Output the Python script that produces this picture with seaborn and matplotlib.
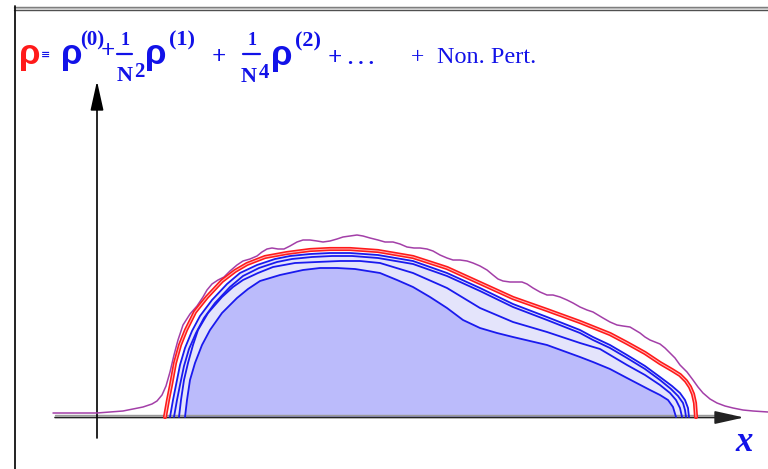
import matplotlib
matplotlib.use("Agg")
import matplotlib.pyplot as plt
import seaborn as sns

# ---- curve data, in drawing units (x to the right, y measured downward) ----
red_x = [165, 168, 171, 175, 180, 186, 195, 207, 222, 235, 247, 265, 287, 310, 330, 350, 378,
         413, 447, 480, 513, 547, 580, 610, 627, 645, 660, 672, 680, 686, 690, 693, 695, 696]
red_y = [417, 400, 385, 363, 345, 330, 312, 297, 281, 271, 264, 257, 253, 250, 249, 249, 251,
         257, 268, 283, 298, 310, 322, 334, 343, 353, 363, 370, 375, 381, 387, 394, 403, 417]

blue1_x = [170, 173, 176, 180, 185, 192, 200, 212, 227, 240, 257, 275, 290, 310, 330, 350, 378,
           413, 447, 480, 513, 547, 580, 593, 610, 627, 645, 660, 672, 680, 685, 688, 689]
blue1_y = [417, 400, 385, 365, 348, 331, 316, 300, 284, 273, 265, 259, 256, 254, 253, 253, 255,
           261, 273, 288, 304, 317, 330, 337, 345, 355, 366, 377, 386, 393, 400, 408, 417]

blue2_x = [174, 177, 180, 184, 189, 196, 204, 215, 230, 243, 259, 277, 292, 312, 332, 352, 378,
           413, 447, 480, 513, 547, 580, 593, 610, 627, 645, 660, 671, 678, 683, 685, 686]
blue2_y = [417, 400, 385, 366, 349, 333, 318, 303, 287, 276, 268, 262, 259, 257, 256, 256, 258,
           264, 276, 291, 307, 320, 333, 340, 348, 358, 369, 380, 389, 396, 403, 410, 417]

blue3_x = [179, 181, 184, 188, 193, 198, 208, 222, 233, 243, 258, 273, 295, 317, 340, 360, 380,
           413, 447, 480, 513, 547, 580, 600, 627, 645, 660, 670, 676, 680, 682]
blue3_y = [417, 400, 380, 363, 345, 330, 313, 297, 287, 280, 273, 267, 263, 262, 261, 261, 263,
           273, 288, 308, 322, 332, 343, 349, 365, 375, 385, 393, 400, 408, 417]

blue4_x = [185, 187, 190, 195, 202, 210, 222, 237, 248, 260, 280, 303, 320, 337, 355, 380, 397,
           413, 430, 447, 463, 480, 497, 513, 547, 580, 593, 610, 627, 650, 660, 668, 673, 676]
blue4_y = [417, 400, 380, 363, 345, 330, 313, 298, 289, 281, 275, 270, 268, 268, 269, 273, 280,
           287, 297, 308, 320, 328, 333, 337, 345, 357, 362, 369, 378, 390, 395, 400, 407, 417]

purple_x = [53, 97, 123, 143, 152, 157, 162, 166, 170, 174, 178, 183, 190, 197, 203, 207, 212,
            218, 224, 230, 237, 243, 250, 257, 262, 267, 272, 278, 284, 290, 297, 303, 310, 317,
            323, 330, 337, 343, 350, 357, 363, 370, 378, 385, 393, 400, 407, 414, 420, 427, 433,
            440, 447, 453, 460, 467, 473, 480, 487, 493, 498, 503, 510, 517, 522, 527, 533, 540,
            547, 553, 560, 567, 573, 580, 587, 593, 598, 603, 610, 617, 623, 630, 635, 640, 645,
            650, 655, 660, 665, 670, 675, 680, 687, 693, 698, 703, 710, 717, 725, 733, 743, 753, 768]
purple_y = [413, 413, 411, 407, 404, 401, 395, 386, 372, 355, 340, 325, 314, 306, 297, 290, 284,
            280, 277, 271, 265, 261, 259, 256, 252, 249, 248, 249, 249, 246, 242, 240, 240, 241,
            242, 241, 239, 237, 236, 235, 236, 238, 240, 242, 242, 244, 247, 248, 248, 249, 251,
            255, 258, 260, 260, 261, 263, 266, 270, 275, 279, 281, 282, 282, 282, 284, 288, 292,
            295, 295, 297, 300, 303, 307, 310, 312, 315, 318, 322, 325, 326, 327, 330, 333, 337,
            340, 342, 344, 348, 353, 358, 365, 372, 380, 387, 393, 399, 403, 406, 408, 410, 411, 412]

BASE = 417  # level of the horizontal axis

sns.set_theme(style="white")
fig = plt.figure(figsize=(7.68, 4.69), dpi=100)
ax = fig.add_axes([0, 0, 1, 1])
ax.set_xlim(0, 768)
ax.set_ylim(469, 0)
ax.axis("off")

# shaded regions: light band inside the outer blue curve, darker core inside the inner one
ax.fill(blue1_x + [blue1_x[0]], blue1_y + [BASE], color="#e4e4fb", lw=0, zorder=1)
ax.fill(blue4_x + [blue4_x[0]], blue4_y + [BASE], color="#bbbbfb", lw=0, zorder=2)

# axes of the sketch
ax.plot([55, 732], [415.5, 415.5], color="#9a9a9a", lw=1.0, zorder=3)
ax.annotate("", xy=(744, 417.5), xytext=(55, 417.5),
            arrowprops=dict(arrowstyle="-|>,head_length=0.9,head_width=0.2",
                            color="#222222", lw=1.2, shrinkA=0, shrinkB=0,
                            mutation_scale=20), zorder=3)
ax.annotate("", xy=(97, 81), xytext=(97, 438),
            arrowprops=dict(arrowstyle="-|>,head_length=0.9,head_width=0.2",
                            color="black", lw=1.2, shrinkA=0, shrinkB=0,
                            mutation_scale=20), zorder=3)

# curves
line_kw = dict(sort=False, estimator=None, ax=ax, legend=False)
sns.lineplot(x=purple_x, y=purple_y, color="#a33fa8", lw=1.1, zorder=4, **line_kw)
sns.lineplot(x=red_x, y=red_y, color="#ff1a1a", lw=3.0, zorder=5, **line_kw)
sns.lineplot(x=red_x, y=red_y, color="#ffb8b8", lw=0.7, zorder=6, **line_kw)
for bx, by in [(blue1_x, blue1_y), (blue2_x, blue2_y), (blue3_x, blue3_y), (blue4_x, blue4_y)]:
    sns.lineplot(x=bx, y=by, color="#1a1aee", lw=1.3, zorder=5, **line_kw)

# frame
ax.plot([14, 768], [7, 7], color="#707070", lw=1.0, zorder=7)
ax.plot([14, 768], [8.5, 8.5], color="#b8b8b8", lw=1.0, zorder=7)
ax.plot([14, 768], [10, 10], color="#505050", lw=1.0, zorder=7)
ax.plot([14.5, 14.5], [6.5, 469], color="#111111", lw=1.3, zorder=7)

# expansion formula
BLUE = "#1212e8"
rho_kw = dict(family="Liberation Sans", weight="bold", fontsize=25, va="baseline", ha="left")
ser_b = dict(family="Liberation Serif", weight="bold", va="baseline", color=BLUE)

ax.text(19, 64, "ρ", color="#ff1a1a", **rho_kw)
ax.text(46, 55, "≡", color=BLUE, family="DejaVu Sans", weight="bold", fontsize=8,
        ha="center", va="center")
ax.text(61, 64, "ρ", color=BLUE, **rho_kw)
ax.text(80, 45, "(0)", fontsize=15, ha="left", **ser_b)
ax.text(108, 58, "+", fontsize=18, ha="center", **ser_b)

ax.text(125, 45, "1", fontsize=13, ha="center", **ser_b)
ax.plot([117, 132], [54.5, 54.5], color=BLUE, lw=1.6)
ax.text(124.5, 81, "N", fontsize=16, ha="center", **ser_b)
ax.text(139, 77, "2", fontsize=15, ha="center", **ser_b)
ax.text(145, 64, "ρ", color=BLUE, **rho_kw)
ax.text(169, 45, "(1)", fontsize=16, ha="left", **ser_b)

ax.text(219, 64, "+", fontsize=18, ha="center", **ser_b)
ax.text(252, 45, "1", fontsize=13, ha="center", **ser_b)
ax.plot([243, 260], [54.5, 54.5], color=BLUE, lw=1.6)
ax.text(249, 82, "N", fontsize=16, ha="center", **ser_b)
ax.text(264, 78, "4", fontsize=15, ha="center", **ser_b)
ax.text(271, 65, "ρ", color=BLUE, **rho_kw)
ax.text(295, 46, "(2)", fontsize=16, ha="left", **ser_b)
ax.text(335, 65, "+", fontsize=18, ha="center", **ser_b)
ax.text(348, 64, ". . .", fontsize=15, ha="left", **ser_b)

ax.text(417, 63, "+", fontsize=17, ha="center", family="Liberation Serif",
        va="baseline", color=BLUE)
ax.text(437, 63, "Non. Pert.", fontsize=17.5, ha="left", family="Liberation Serif",
        va="baseline", color=BLUE)

# axis label
ax.text(744, 451, "x", fontsize=25, ha="center", va="baseline", color=BLUE,
        family="Liberation Serif", weight="bold", style="italic")

fig.savefig("out.png", dpi=100)
